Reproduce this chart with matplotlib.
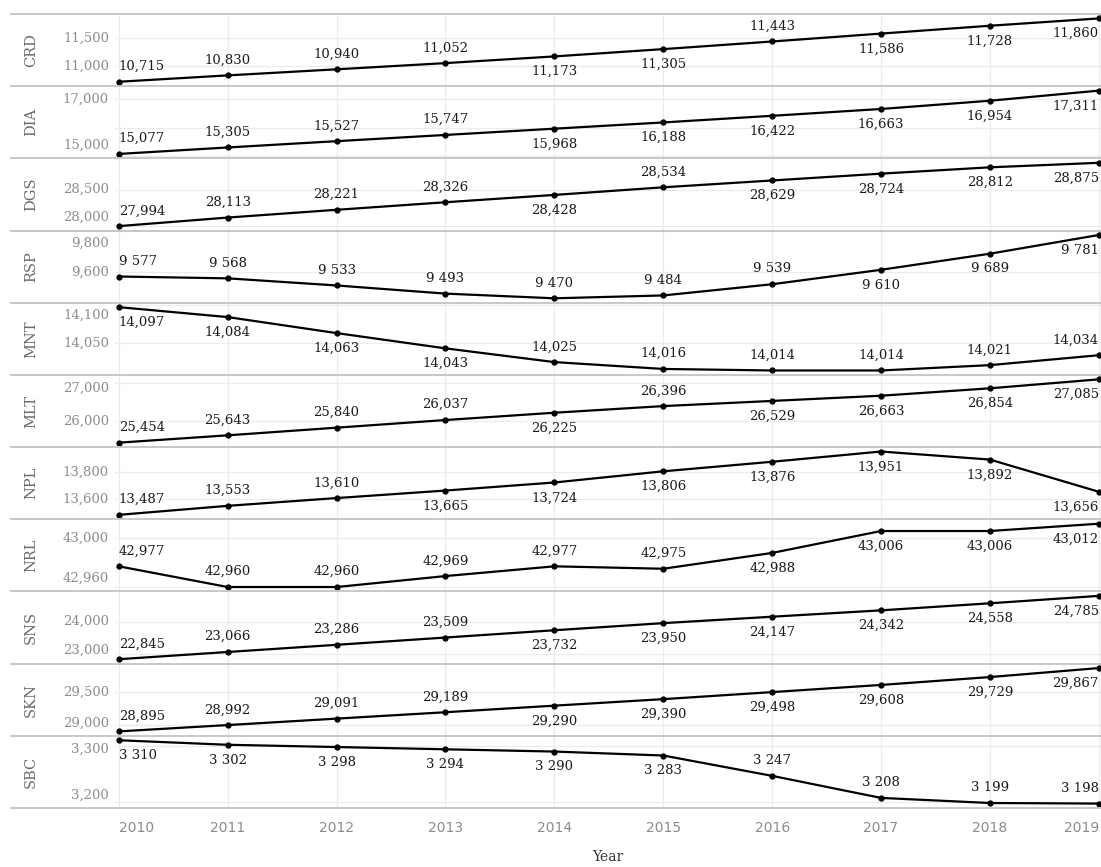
import numpy as np
import matplotlib.pyplot as plt
from matplotlib.lines import Line2D

# data
years = [2010, 2011, 2012, 2013, 2014, 2015, 2016, 2017, 2018, 2019]
names = ['CRD', 'DIA', 'DGS', 'RSP', 'MNT', 'MLT', 'NPL', 'NRL', 'SNS', 'SKN', 'SBC']

CRD = [10715, 10830, 10940, 11052, 11173, 11305, 11443, 11586, 11728, 11860]
DIA = [15077, 15305, 15527, 15747, 15968, 16188, 16422, 16663, 16954, 17311]
DGS = [27994, 28113, 28221, 28326, 28428, 28534, 28629, 28724, 28812, 28875]
RSP = [9577, 9568, 9533, 9493, 9470, 9484, 9539, 9610, 9689, 9781]
MNT = [14097, 14084, 14063, 14043, 14025, 14016, 14014, 14014, 14021, 14034]
MLT = [25454, 25643, 25840, 26037, 26225, 26396, 26529, 26663, 26854, 27085]
NPL = [13487, 13553, 13610, 13665, 13724, 13806, 13876, 13951, 13892, 13656]
NRL = [42977, 42960, 42960, 42969, 42977, 42975, 42988, 43006, 43006, 43012]
SNS = [22845, 23066, 23286, 23509, 23732, 23950, 24147, 24342, 24558, 24785]
SKN = [28895, 28992, 29091, 29189, 29290, 29390, 29498, 29608, 29729, 29867]
SBC = [3310, 3302, 3298, 3294, 3290, 3283, 3247, 3208, 3199, 3198]
series = [CRD, DIA, DGS, RSP, MNT, MLT, NPL, NRL, SNS, SKN, SBC]

# axis ticks: labelled ones and gridlines
tick_labels = {
    'CRD': [11000, 11500], 'DIA': [15000, 17000], 'DGS': [28000, 28500],
    'RSP': [9600, 9800], 'MNT': [14050, 14100], 'MLT': [26000, 27000],
    'NPL': [13600, 13800], 'NRL': [42960, 43000], 'SNS': [23000, 24000],
    'SKN': [29000, 29500], 'SBC': [3200, 3300],
}
grid_extra = {'DIA': [16000]}
space_sep = ['RSP', 'SBC']

# label placement (a = above, b = below)
side = {
    'CRD': 'aaaabbabbb', 'DIA': 'aaaabbbbbb', 'DGS': 'aaaababbbb',
    'RSP': 'aaaaaaabbb', 'MNT': 'bbbbaaaaaa', 'MLT': 'aaaababbbb',
    'NPL': 'aaabbbbbbb', 'NRL': 'aaaaaabbbb', 'SNS': 'aaaabbbbbb',
    'SKN': 'aaaabbbbbb', 'SBC': 'bbbbbbaaaa',
}

serif = ['DejaVu Serif']
W, H = 1101, 867
fig = plt.figure(figsize=(W / 100, H / 100), dpi=100)

top_px, bot_px = 14, 808
left_px, right_px = 115, 1101
ph = (bot_px - top_px) / len(names)
sep_color = '#c4c4c4'
tick_color = '#8c8c8c'

for i, (name, vals) in enumerate(zip(names, series)):
    y0 = top_px + i * ph
    ax = fig.add_axes([left_px / W, 1 - (y0 + ph) / H, (right_px - left_px) / W, ph / H])
    ax.plot(years, vals, color='black', lw=1.6, marker='o', ms=3.5, zorder=3)
    lo, hi = min(vals), max(vals)
    rng = hi - lo
    ax.set_ylim(lo - 0.07 * rng, hi + 0.07 * rng)
    ax.set_xlim(2009.965, 2019.02)
    for s in ax.spines.values():
        s.set_visible(False)
    ax.set_yticks(tick_labels[name] + grid_extra.get(name, []))
    ax.set_yticklabels([])
    ax.set_xticks(years)
    ax.tick_params(length=0)
    ax.grid(True, color='#ececec', lw=0.9)
    ax.set_axisbelow(True)

    # y tick labels kept inside the pane
    ylo, yhi = ax.get_ylim()
    for t in tick_labels[name]:
        f = (t - ylo) / (yhi - ylo)
        f = min(max(f, 0.18), 0.82)
        ax.text(-6 / (right_px - left_px), f, f'{t:,}', transform=ax.transAxes,
                ha='right', va='center', fontsize=9.5, color=tick_color, family=serif)

    # data labels
    for j, (x, v) in enumerate(zip(years, vals)):
        txt = f'{v:,}'
        if name in space_sep:
            txt = txt.replace(',', ' ')
        ha = 'left' if j == 0 else ('right' if j == len(years) - 1 else 'center')
        dy = 11 if side[name][j] == 'a' else -11
        ax.annotate(txt, (x, v), xytext=(0, dy), textcoords='offset points',
                    ha=ha, va='center', fontsize=9.5, color='#1a1a1a',
                    family=serif, zorder=4, annotation_clip=False)

    if i < len(names) - 1:
        ax.set_xticklabels([])
    else:
        ax.set_xticklabels([str(y) for y in years], fontsize=10, color=tick_color)
        ax.tick_params(axis='x', pad=9)
        labs = ax.get_xticklabels()
        labs[0].set_ha('left')
        labs[-1].set_ha('right')

    fig.text(31 / W, 1 - (y0 + ph / 2) / H, name, rotation=90, ha='center', va='center',
             fontsize=10.5, color='#6a6a6a', family=serif)

# separators between panels
for i in range(len(names) + 1):
    yy = 1 - (top_px + i * ph) / H
    fig.add_artist(Line2D([11 / W, 1], [yy, yy], transform=fig.transFigure,
                          color=sep_color, lw=1.3))

fig.text(608 / W, 1 - 857 / H, 'Year', ha='center', va='center', fontsize=10,
         color='#333333', family=serif)

plt.savefig('out.png', dpi=100)
